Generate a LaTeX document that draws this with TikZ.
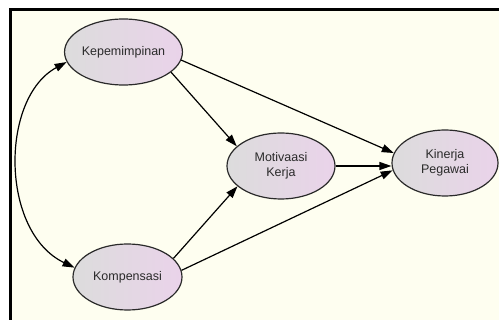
\documentclass[tikz,border=0pt]{standalone}
\usepackage{fontspec}
\setmainfont{Liberation Sans}
\usetikzlibrary{arrows.meta,shapes.geometric}
\definecolor{cream}{HTML}{FEFEF0}
\definecolor{lgray}{HTML}{DCDCDC}
\definecolor{lpink}{HTML}{EAD3EA}
\definecolor{ink}{HTML}{2A2A2A}
\tikzset{
  latent/.style={ellipse, draw=ink, line width=1.2pt, left color=lgray, right color=lpink,
    minimum width=109pt, minimum height=66pt, inner sep=0pt, align=center,
    font=\fontsize{12.5}{14.5}\selectfont, text=ink},
  arr/.style={draw=black, line width=1.2pt, -{Triangle[length=12pt,width=8pt]}},
  biarr/.style={draw=black, line width=1.2pt, {Triangle[length=12pt,width=8pt]}-{Triangle[length=12pt,width=8pt]}}
}
\begin{document}
\begin{tikzpicture}[x=1pt,y=-1pt]
\useasboundingbox (0,0) rectangle (499,320);
\fill[white] (0,0) rectangle (499,320);
\fill[cream] (10,9) rectangle (499,320);
\draw[black, line width=3pt] (10.5,320) -- (10.5,9.5) -- (499,9.5);
\node[latent] (kep) at (123.5,52) {Kepemimpinan};
\node[latent] (kom) at (127.5,277) {Kompensasi};
\node[latent, minimum width=108pt] (mot) at (281,166) {Motivaasi\\Kerja};
\node[latent, minimum width=106pt] (kin) at (445,163) {Kinerja\\Pegawai};
\draw[arr] (kep.-23) -- (mot.156);
\draw[arr] (kep.-8) -- (kin.169);
\draw[arr] (mot.east) -- (mot.east -| kin.west);
\draw[arr] (kom.22) -- (mot.205);
\draw[arr] (kom.7) -- (kin.188);
\draw[biarr] (kep.190) .. controls (0,98) and (0,232) .. (kom.170);
\end{tikzpicture}
\end{document}
